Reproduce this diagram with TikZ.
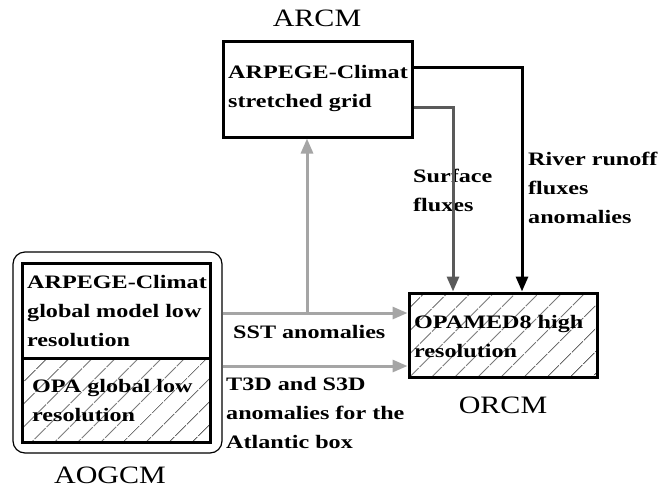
\documentclass[tikz,border=0pt]{standalone}
\usepackage{fontspec}
\setmainfont{Liberation Serif}
\newfontfamily\bfx{Liberation Serif}[FakeStretch=1.27]
\newfontfamily\lblf{Liberation Serif}[FakeStretch=1.2]
\usetikzlibrary{arrows.meta,patterns.meta}
\definecolor{lgray}{RGB}{165,165,165}
\definecolor{dgray}{RGB}{90,90,90}
\tikzset{
  modelbox/.style={draw=black, line width=3pt, inner sep=0pt},
  hatched/.style={pattern={Lines[angle=45,distance=17pt,line width=0.7pt]}},
  btxt/.style={font=\bfx\bfseries\fontsize{19}{29}\selectfont, align=left, inner sep=0pt, anchor=west},
  lbl/.style={font=\lblf\fontsize{25}{30}\selectfont, inner sep=0pt},
  conn/.style={line width=3pt, -{Triangle[length=15pt,width=12pt]}},
}
\begin{document}
\begin{tikzpicture}[x=1pt,y=-1pt]
\useasboundingbox (0,0) rectangle (661,488);
% ARCM
\node[lbl] (arcmlbl) at (317,18) {ARCM};
\node[modelbox, minimum width=189pt, minimum height=96pt] (arcm) at (317.5,89) {};
\node[btxt] (arcmtxt) at (228,89) {ARPEGE-Climat\\stretched grid};
% AOGCM
\node[draw=black, line width=1.2pt, rounded corners=12pt, minimum width=209pt, minimum height=201pt, inner sep=0pt] (aog) at (117.5,352.5) {};
\node[modelbox, minimum width=188pt, minimum height=95pt] (atm) at (116,310.5) {};
\node[modelbox, hatched, minimum width=188pt, minimum height=84pt] (ocn) at (116,400) {};
\node[btxt] (atmtxt) at (27,311) {ARPEGE-Climat\\global model low\\resolution};
\node[btxt] (ocntxt) at (32,401) {OPA global low\\resolution};
\node[lbl] (aoglbl) at (110,475) {AOGCM};
% ORCM
\node[modelbox, hatched, minimum width=188pt, minimum height=84pt] (orcm) at (503,335) {};
\node[btxt] (orcmtxt) at (414,337) {OPAMED8 high\\resolution};
\node[lbl] (orcmlbl) at (503,405) {ORCM};
% labels
\node[btxt] (sftxt) at (413,190) {Surface\\fluxes};
\node[btxt] (rvtxt) at (528,188) {River runoff\\fluxes\\anomalies};
\node[btxt] (ssttxt) at (233,332) {SST anomalies};
\node[btxt] (t3dtxt) at (226,413) {T3D and S3D\\anomalies for the\\Atlantic box};
% connectors
\coordinate (sstY) at (0,313);
\coordinate (t3dY) at (0,366);
\coordinate (jn) at (307,313);
\coordinate (sf) at (453,107);
\coordinate (rv) at (522,67);
\draw[conn, draw=lgray] (aog.east |- sstY) -- (orcm.west |- sstY);
\draw[conn, draw=lgray] (aog.east |- t3dY) -- (orcm.west |- t3dY);
\draw[conn, draw=lgray] (jn) -- (jn |- arcm.south);
\draw[conn, draw=dgray] (arcm.east |- sf) -- (sf) -- (sf |- orcm.north);
\draw[conn, draw=black] (arcm.east |- rv) -- (rv) -- (rv |- orcm.north);
\end{tikzpicture}
\end{document}
